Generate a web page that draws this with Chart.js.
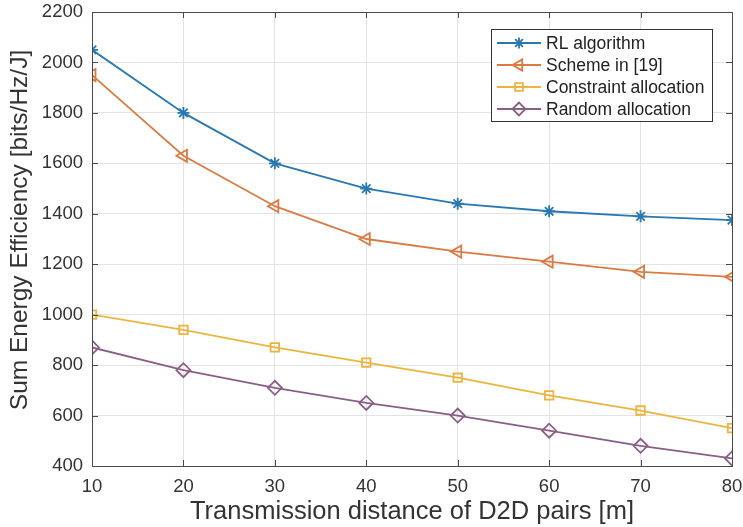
<!DOCTYPE html>
<html><head><meta charset="utf-8">
<script src="https://cdn.jsdelivr.net/npm/chart.js@4/dist/chart.umd.min.js"></script>
<style>html,body{margin:0;padding:0;background:#fff}#wrap{width:743px;height:527px}</style>
</head><body><div id="wrap"><canvas id="c" width="743" height="527"></canvas></div>
<script>
const distances = [10, 20, 30, 40, 50, 60, 70, 80];
const rlAlgorithm = [2050, 1800, 1600, 1500, 1440, 1410, 1390, 1375];
const scheme19 = [1950, 1630, 1430, 1300, 1250, 1210, 1170, 1150];
const constraintAlloc = [1000, 940, 870, 810, 750, 680, 620, 550];
const randomAlloc = [870, 780, 710, 650, 600, 540, 480, 430];
const seriesNames = ['RL algorithm', 'Scheme in [19]', 'Constraint allocation', 'Random allocation'];
const xTicks = [10, 20, 30, 40, 50, 60, 70, 80];
const yTicks = [400, 600, 800, 1000, 1200, 1400, 1600, 1800, 2000, 2200];
const xTitle = 'Transmission distance of D2D pairs [m]';
const yTitle = 'Sum Energy Efficiency [bits/Hz/J]';

const FONT = "'Liberation Sans', Arial, Helvetica, sans-serif";
const colors = ['#2a78b2', '#dc7a43', '#eeb43f', '#8a5f87'];
const styles = [
  {pointStyle: 'star', rotation: 0, radius: 6},
  {pointStyle: 'triangle', rotation: -90, radius: 7},
  {pointStyle: 'rect', rotation: 0, radius: 6},
  {pointStyle: 'rectRot', rotation: 0, radius: 7}
];
const allData = [rlAlgorithm, scheme19, constraintAlloc, randomAlloc];

const datasets = allData.map((arr, i) => ({
  label: seriesNames[i],
  data: arr.map((v, j) => ({x: distances[j], y: v})),
  borderColor: colors[i],
  backgroundColor: 'rgba(0,0,0,0)',
  borderWidth: 1.8,
  pointStyle: styles[i].pointStyle,
  rotation: styles[i].rotation,
  pointRadius: styles[i].radius,
  pointBorderWidth: 1.8,
  pointBorderColor: colors[i],
  pointBackgroundColor: 'rgba(0,0,0,0)',
  tension: 0
}));

const boxPlugin = {
  id: 'boxPlugin',
  afterDraw(chart) {
    const ctx = chart.ctx, a = chart.chartArea;
    const xs = chart.scales.x, ys = chart.scales.y;
    ctx.save();
    ctx.strokeStyle = '#4a4a4a';
    ctx.lineWidth = 1;
    ctx.strokeRect(Math.round(a.left) + 0.5, Math.round(a.top) + 0.5, Math.round(a.right - a.left), Math.round(a.bottom - a.top));
    ctx.beginPath();
    xTicks.forEach(t => {
      const px = Math.round(xs.getPixelForValue(t)) + 0.5;
      ctx.moveTo(px, a.bottom); ctx.lineTo(px, a.bottom - 6);
      ctx.moveTo(px, a.top); ctx.lineTo(px, a.top + 6);
    });
    yTicks.forEach(t => {
      const py = Math.round(ys.getPixelForValue(t)) + 0.5;
      ctx.moveTo(a.left, py); ctx.lineTo(a.left + 6, py);
      ctx.moveTo(a.right, py); ctx.lineTo(a.right - 6, py);
    });
    ctx.stroke();
    // y-axis title
    ctx.save();
    ctx.translate(20, 230);
    ctx.rotate(-Math.PI / 2);
    ctx.font = '24.5px ' + FONT;
    ctx.fillStyle = '#333';
    ctx.textAlign = 'center';
    ctx.textBaseline = 'middle';
    ctx.fillText(yTitle, 0, 0);
    ctx.restore();
    // legend
    const lx = 491, ly = 29, lw = 221, lh = 92;
    ctx.fillStyle = '#fff';
    ctx.fillRect(lx, ly, lw, lh);
    ctx.strokeStyle = '#333';
    ctx.strokeRect(lx + 0.5, ly + 0.5, lw, lh);
    ctx.font = '17.5px ' + FONT;
    ctx.textBaseline = 'middle';
    seriesNames.forEach((name, i) => {
      const y = ly + 14 + i * 22;
      ctx.strokeStyle = colors[i];
      ctx.lineWidth = 1.8;
      ctx.beginPath(); ctx.moveTo(lx + 6, y); ctx.lineTo(lx + 50, y); ctx.stroke();
      ctx.fillStyle = 'rgba(0,0,0,0)';
      Chart.helpers.drawPoint(ctx, {pointStyle: styles[i].pointStyle, rotation: styles[i].rotation, radius: styles[i].radius - 0.5, borderWidth: 1.8}, lx + 28, y);
      ctx.fillStyle = '#222';
      ctx.fillText(name, lx + 55, y + 1);
    });
    ctx.restore();
  }
};

new Chart(document.getElementById('c'), {
  type: 'line',
  data: {datasets},
  options: {
    responsive: false,
    animation: false,
    layout: {padding: {left: 0, top: 12, right: 11, bottom: 0}},
    plugins: {legend: {display: false}, tooltip: {enabled: false}},
    scales: {
      x: {
        type: 'linear', min: 10, max: 80,
        afterBuildTicks: s => { s.ticks = xTicks.map(v => ({value: v})); },
        afterFit: s => { s.height = 61; s.paddingLeft = 0; s.paddingRight = 0; },
        grid: {color: '#e3e3e3', drawTicks: false},
        border: {display: false},
        ticks: {color: '#333', font: {family: FONT, size: 18.5}, padding: 10, maxRotation: 0, callback: v => String(v)},
        title: {display: true, text: xTitle, color: '#333', font: {family: FONT, size: 25.5}, padding: {top: 0, bottom: 0}}
      },
      y: {
        min: 400, max: 2200,
        afterBuildTicks: s => { s.ticks = yTicks.map(v => ({value: v})); },
        afterFit: s => { s.width = 92; s.paddingTop = 0; s.paddingBottom = 0; },
        grid: {color: '#e3e3e3', drawTicks: false},
        border: {display: false},
        ticks: {color: '#333', font: {family: FONT, size: 18.5}, padding: 9, callback: v => String(v)},
        title: {display: false}
      }
    }
  },
  plugins: [boxPlugin]
});
</script></body></html>
